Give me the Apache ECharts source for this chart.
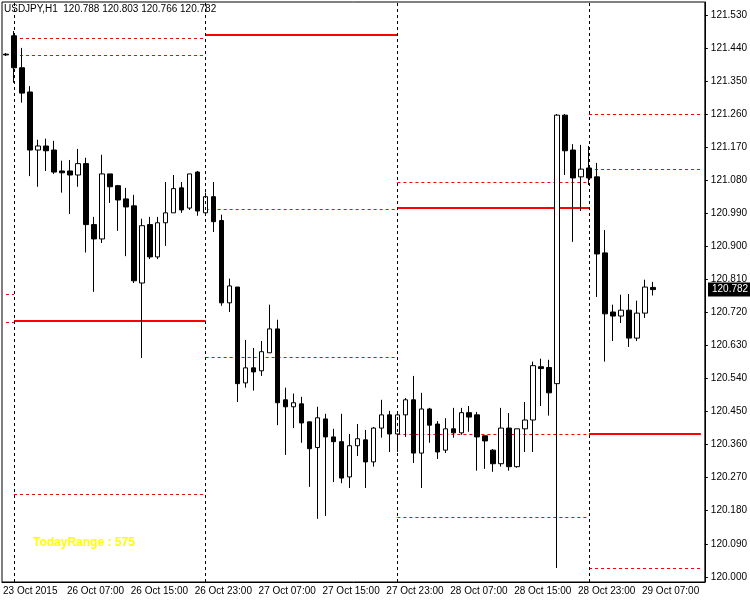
<!DOCTYPE html>
<html>
<head>
<meta charset="utf-8">
<script src="https://cdn.jsdelivr.net/npm/echarts@6/dist/echarts.min.js"></script>
<style>
  html, body { margin: 0; padding: 0; background: #fff; }
  #chart { width: 750px; height: 600px; }
</style>
</head>
<body>
<div id="chart"></div>
<script>
// USDJPY H1 candles: 23 Oct 23:00 .. 29 Oct 08:00
const opens = [121.423, 121.473, 121.386, 121.320, 121.162, 121.173, 121.162, 121.105, 121.105, 121.094,
  121.125, 120.959, 120.920, 121.097, 121.065, 121.029, 121.010, 120.800, 120.959, 120.871,
  120.964, 120.991, 121.059, 121.004, 121.102, 120.991, 121.035, 120.970, 120.746, 120.789,
  120.528, 120.569, 120.561, 120.610, 120.675, 120.482, 120.463, 120.471, 120.422, 120.352,
  120.430, 120.381, 120.368, 120.272, 120.357, 120.373, 120.313, 120.405, 120.441, 120.389,
  120.441, 120.482, 120.337, 120.457, 120.416, 120.345, 120.403, 120.392, 120.447, 120.441,
  120.384, 120.345, 120.308, 120.405, 120.300, 120.403, 120.427, 120.572, 120.570, 120.526,
  121.257, 121.162, 121.089, 121.113, 121.089, 120.882, 120.721, 120.710, 120.726, 120.650,
  120.718, 120.788];
const closes = [121.421, 121.386, 121.317, 121.162, 121.173, 121.160, 121.102, 121.100, 121.094, 121.125,
  120.959, 120.920, 121.097, 121.062, 121.026, 121.007, 120.806, 120.956, 120.871, 120.964,
  120.991, 121.057, 120.999, 121.097, 120.996, 121.035, 120.967, 120.746, 120.792, 120.526,
  120.569, 120.558, 120.613, 120.675, 120.474, 120.463, 120.474, 120.419, 120.349, 120.433,
  120.381, 120.368, 120.269, 120.357, 120.376, 120.313, 120.405, 120.441, 120.389, 120.441,
  120.482, 120.337, 120.457, 120.413, 120.340, 120.403, 120.392, 120.447, 120.435, 120.381,
  120.370, 120.308, 120.405, 120.300, 120.403, 120.427, 120.575, 120.567, 120.501, 121.257,
  121.160, 121.086, 121.110, 121.086, 120.879, 120.716, 120.710, 120.726, 120.650, 120.718,
  120.789, 120.782];
const lows = [121.418, 121.345, 121.291, 121.091, 121.062, 121.105, 121.097, 121.046, 120.988, 121.062,
  120.883, 120.776, 120.909, 121.018, 120.942, 120.873, 120.800, 120.596, 120.865, 120.865,
  120.901, 120.991, 120.991, 120.999, 120.983, 120.988, 120.939, 120.738, 120.721, 120.476,
  120.515, 120.507, 120.547, 120.610, 120.413, 120.332, 120.405, 120.365, 120.245, 120.158,
  120.166, 120.258, 120.255, 120.242, 120.329, 120.242, 120.300, 120.379, 120.340, 120.340,
  120.381, 120.310, 120.242, 120.365, 120.321, 120.337, 120.379, 120.387, 120.395, 120.289,
  120.294, 120.286, 120.300, 120.289, 120.297, 120.340, 120.340, 120.465, 120.439, 120.024,
  121.094, 120.912, 120.996, 121.067, 120.762, 120.586, 120.642, 120.691, 120.626, 120.642,
  120.705, 120.766];
const highs = [121.426, 121.486, 121.440, 121.336, 121.190, 121.193, 121.187, 121.133, 121.135, 121.165,
  121.141, 120.980, 121.149, 121.097, 121.067, 121.059, 121.040, 120.975, 120.980, 120.980,
  121.075, 121.094, 121.075, 121.097, 121.105, 121.046, 121.075, 120.986, 120.812, 120.789,
  120.645, 120.623, 120.642, 120.741, 120.700, 120.515, 120.499, 120.490, 120.422, 120.463,
  120.444, 120.403, 120.444, 120.389, 120.416, 120.400, 120.408, 120.482, 120.452, 120.444,
  120.487, 120.547, 120.501, 120.460, 120.424, 120.432, 120.460, 120.460, 120.465, 120.449,
  120.384, 120.348, 120.460, 120.446, 120.403, 120.476, 120.586, 120.594, 120.591, 121.260,
  121.260, 121.178, 121.176, 121.173, 121.127, 120.944, 120.741, 120.768, 120.770, 120.752,
  120.809, 120.803];

// x axis labels every 8 hours
const tickIndex = [0, 8, 16, 24, 32, 40, 48, 56, 64, 72, 80];
const tickLabels = ['23 Oct 2015', '26 Oct 07:00', '26 Oct 15:00', '26 Oct 23:00', '27 Oct 07:00',
  '27 Oct 15:00', '27 Oct 23:00', '28 Oct 07:00', '28 Oct 15:00', '28 Oct 23:00', '29 Oct 07:00'];
const priceTicks = [120.000, 120.090, 120.180, 120.270, 120.360, 120.450, 120.540, 120.630, 120.720,
  120.810, 120.900, 120.990, 121.080, 121.170, 121.260, 121.350, 121.440, 121.530];

// day separators (bar index of 00:00)
const dayStarts = [1, 25, 49, 73];

// daily levels drawn by the indicator
const levelFrom = [0, 0, 1, 1, 1, 1, 25, 25, 25, 49, 49, 49, 49, 73, 73, 73, 73];
const levelTo = [1, 1, 25, 25, 25, 25, 49, 49, 49, 73, 73, 73, 73, 87, 87, 87, 87];
const levelValue = [120.770, 120.694, 121.467, 121.421, 120.697, 120.226, 121.476, 121.000, 120.599,
  121.075, 121.004, 120.389, 120.161, 121.260, 121.111, 120.389, 120.024];
const levelSolid = [0, 0, 0, 0, 1, 0, 1, 0, 0, 0, 1, 0, 0, 0, 0, 1, 0];

const barCount = 88;
const categories = [];
for (let i = 0; i < barCount; i++) {
  const k = tickIndex.indexOf(i);
  categories.push(k >= 0 ? tickLabels[k] : 'bar' + i);
}

const font = 'Liberation Sans';
const candleData = opens.map((o, i) => [o, closes[i], lows[i], highs[i]]);
const levelData = levelValue.map((v, i) => ({
  coords: [[levelFrom[i], v], [levelTo[i], v]],
  lineStyle: levelSolid[i]
    ? { color: '#ff0000', width: 2, type: 'solid', opacity: 1 }
    : { color: '#ff0000', width: 1, type: [3, 3], opacity: 1 }
}));

const chart = echarts.init(document.getElementById('chart'));
chart.setOption({
  animation: false,
  backgroundColor: '#fff',
  grid: { left: 2, right: 43, top: 2, bottom: 18, show: true, borderColor: '#000', borderWidth: 1 },
  xAxis: {
    type: 'category',
    data: categories,
    boundaryGap: true,
    axisLine: { lineStyle: { color: '#000' } },
    axisTick: { interval: (i) => tickIndex.includes(i), alignWithLabel: true, length: 3, lineStyle: { color: '#000' } },
    axisLabel: {
      interval: (i) => tickIndex.includes(i),
      color: '#000', fontFamily: font, fontSize: 10, align: 'left', margin: 4,
      padding: [0, 0, 0, -3]
    },
    splitLine: { show: false }
  },
  yAxis: {
    type: 'value',
    position: 'right',
    min: 119.986,
    max: 121.565,
    axisLine: { show: true, lineStyle: { color: '#000' } },
    axisTick: { show: true, customValues: priceTicks, length: 3, lineStyle: { color: '#000' } },
    axisLabel: {
      customValues: priceTicks,
      formatter: (v) => v.toFixed(3),
      color: '#000', fontFamily: font, fontSize: 10, margin: 6
    },
    splitLine: { show: false }
  },
  series: [
    {
      type: 'lines',
      coordinateSystem: 'cartesian2d',
      polyline: false,
      silent: true,
      z: 1,
      lineStyle: { opacity: 1 },
      data: levelData
    },
    {
      type: 'candlestick',
      data: candleData,
      barWidth: 5,
      z: 3,
      itemStyle: {
        color: '#fff', color0: '#000',
        borderColor: '#000', borderColor0: '#000', borderWidth: 1
      },
      markLine: {
        silent: true,
        symbol: 'none',
        label: { show: false },
        lineStyle: { color: '#000', type: [3, 3], width: 1, opacity: 1 },
        data: dayStarts.map(d => ({ xAxis: d }))
      }
    }
  ]
});

// last price marker on the right scale
const lastClose = closes[closes.length - 1];
const py = chart.convertToPixel({ yAxisIndex: 0 }, lastClose);
chart.setOption({
  graphic: [
    {
      type: 'text', left: 4, top: 4,
      style: { text: 'USDJPY,H1  120.788 120.803 120.766 120.782', fill: '#000', font: '10px ' + font }
    },
    {
      type: 'text', left: 33, top: 537,
      style: { text: 'TodayRange : 575', fill: '#ffff00', font: 'bold 12px ' + font }
    },
    {
      type: 'rect', shape: { x: 708, y: py - 7, width: 42, height: 14 },
      style: { fill: '#000' }
    },
    {
      type: 'text', x: 712, y: py, style: {
        text: lastClose.toFixed(3), fill: '#fff', font: '10px ' + font, verticalAlign: 'middle'
      }
    }
  ]
});
</script>
</body>
</html>
